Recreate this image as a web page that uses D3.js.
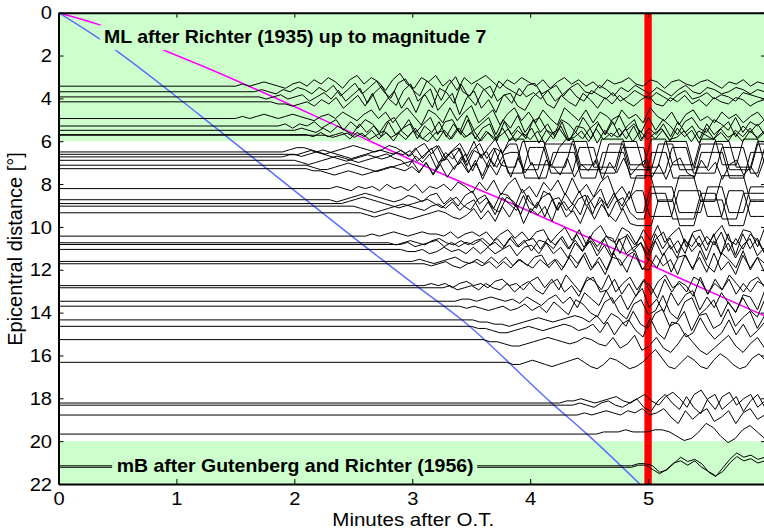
<!DOCTYPE html>
<html><head><meta charset="utf-8">
<script src="https://cdn.jsdelivr.net/npm/d3@7"></script>
<style>body{margin:0;background:#fff;overflow:hidden}svg{display:block}</style>
</head><body>
<svg id="c" width="764" height="529"></svg>
<script>
// ---------------- data ----------------
const xTicks = [0, 1, 2, 3, 4, 5];
const yTicks = [0, 2, 4, 6, 8, 10, 12, 14, 16, 18, 20, 22];
const greenBands = [[0, 6], [20, 22]];
const markerTime = 5;
const recordEnd = 6.05;
const mlLabel = "ML after Richter (1935) up to magnitude 7";
const mbLabel = "mB after Gutenberg and Richter (1956)";
// [minutes, degrees]
const magentaCurve = [[0,0],[0.35,0.57],[0.89,1.74],[1.2,2.44],[2.62,5.94],[3.18,7.34],[3.91,9.07],[5.02,11.78],[5.975,14.12],[6.05,14.3]];
const blueCurve = [[0,0],[0.36,1.27],[1.2,4.79],[1.78,7.34],[2.73,11.47],[2.97,12.48],[3.43,14.38],[4.19,18.26],[4.48,19.66],[4.93,22]];
// baseline distance of each record (degrees)
const traceDist = [3.43,3.69,3.93,4.16,4.94,5.29,5.49,5.69,5.72,
  6.50,6.61,6.73,6.89,7.12,7.28,
  8.21,8.73,8.91,9.03,9.34,
  10.43,10.74,10.82,11.05,11.61,11.72,
  12.74,12.84,13.47,13.70,14.34,14.64,15.26,
  16.32,18.22,18.32,18.78,19.67,21.15,21.22];
// minute at which each record starts to move
const traceOnset = [1.5,1.6,1.7,1.8,1.5,1.8,2.0,2.1,2.2,
  1.9,2.0,1.9,2.0,2.1,2.1,
  2.3,2.3,2.4,2.5,2.5,
  2.6,2.8,2.9,2.9,3.0,3.1,
  3.1,3.2,3.3,3.4,3.45,3.5,3.6,
  3.8,4.25,4.3,4.4,4.5,4.8,4.8];
// ground motion samples from onset to end of record (units of 0.1 deg, positive = up)
const traceSamples = [
 [0,1,0,1,2,1,0,-1,1,2,0,3,1,4,2,-1,3,5,1,4,2,-2,3,6,1,-1,4,2,5,0,3,-2,4,1,3,5,2,-1,3,1,4,2,0,3,-1,2,4,1,3,0,2,-1,3,1,2,4,1,0,3,2,-1,2,3,1,0,2,3,1,-1,2,1,3,0,2,1,2],
 [0,0,1,0,-1,1,0,2,1,-1,2,0,3,-2,1,4,-1,2,5,0,-3,4,6,1,-2,5,2,-4,3,7,0,-2,4,1,-3,5,2,0,-2,3,4,-1,1,3,-2,2,4,0,-1,3,1,-2,2,0,3,1,-1,2,0,-2,1,3,0,-1,2,1,-1,0,2,1,-1,1,0,2],
 [0,-1,0,1,-1,0,1,-2,0,2,-1,3,-2,1,4,-3,2,5,-1,-4,3,6,-2,1,-5,4,2,-3,6,0,-4,3,5,-2,1,-3,4,0,2,-1,3,-2,1,4,0,-2,3,1,-1,2,-2,0,3,1,-1,2,0,-2,1,3,-1,0,2,-1,1,0,-2,2,1,0,-1,1],
 [0,-1,-1,-2,-1,0,-2,1,-1,2,-3,0,3,-2,4,-4,1,5,-3,2,-5,3,6,-4,0,4,-6,2,5,-3,1,-5,3,4,-2,-4,2,5,-1,-3,3,0,-2,4,1,-3,2,-1,3,0,-2,1,3,-1,-2,2,0,3,-1,1,-2,2,0,-1,2,1,-2,0,1,-1],
 [0,1,0,1,2,1,0,1,2,1,0,-1,1,2,0,3,1,-1,2,4,0,3,-2,2,5,1,-3,4,2,-2,5,-1,3,6,-2,1,4,-3,2,5,-1,3,-2,4,0,-3,5,2,-1,4,-2,3,1,-3,4,0,2,-2,5,1,-1,3,-3,2,4,-1,1,-2,3,0,2,-2,1,3,-1,2],
 [0,0,1,-1,1,0,2,-1,1,3,-2,2,-1,3,1,-3,2,4,-2,3,-3,1,4,-4,2,3,-3,5,-2,1,4,-4,3,-1,5,-3,2,4,-2,-4,3,1,-3,4,-1,2,-4,3,5,-2,1,-3,4,-2,3,0,-4,2,4,-1,-3,3,1,-2,4,-3,2,0,3,-2],
 [0,1,0,-1,1,-1,2,0,-2,3,-1,2,-3,4,-2,1,3,-4,2,-1,4,-3,3,-2,5,-4,1,3,-5,4,-2,2,-4,5,-1,3,-3,4,-5,2,1,-4,3,-2,4,-3,2,5,-4,1,-2,3,-3,4,-1,2,-4,3,-2,1,4,-3,2,-1,3,-2,1],
 [0,-1,1,-1,0,1,-2,1,-1,2,-2,1,-3,2,-1,3,-2,1,-3,2,-2,3,-1,2,-3,1,-2,3,-3,2,-1,3,-4,2,-2,4,-3,1,-2,3,-4,2,-1,3,-2,4,-3,1,-2,2,-3,3,-1,2,-4,3,-2,1,-3,2,-1,3,-2,1,-2],
 [0,0,-1,0,1,-1,1,-2,0,2,-1,1,-2,2,-1,-3,1,2,-2,3,-1,1,-3,2,-2,0,3,-3,1,-2,2,-4,1,3,-2,-1,2,-3,3,-2,1,-1,3,-3,2,-2,1,3,-2,-1,2,-3,2,0,-2,3,-1,1,-3,2,-1,2,-2],
 [0,1,2,2,1,0,-1,0,1,2,3,2,1,0,1,3,2,0,-2,2,4,-1,3,-3,1,4,-2,5,-3,2,6,-1,6,6,6,-6,-6,-6,-6,2,6,6,-6,-6,-6,6,6,6,6,-6,-6,-6,6,6,6,-6,-6,-6,-6,6,6,6,-6,-6,-6,6,6,6,-6,-6],
 [0,-1,0,1,2,1,0,-1,-2,-1,0,1,2,1,0,2,-1,3,-2,2,4,-3,1,3,-4,2,5,-2,3,-5,-6,-6,6,6,6,6,-6,-6,-6,6,6,6,-6,-6,-6,-6,6,6,6,-6,-6,-6,6,6,6,6,-6,-6,-6,6,6,6,-6,-6,-6,6,6,6],
 [0,1,1,2,3,2,1,0,-1,-2,-1,0,1,0,-1,0,2,1,3,-2,1,4,-3,2,-1,4,-4,3,1,-5,4,2,6,6,-6,-6,-6,6,6,6,6,6,-6,-6,-6,-6,6,6,6,-6,-6,-6,-6,6,6,6,-6,-6,-6,6,6,6,6,-6,-6,-6,-6,6,6,6],
 [0,-1,-2,-1,0,1,2,1,0,-1,0,1,2,3,1,0,-3,2,-1,3,-4,1,4,-2,3,-5,2,4,-3,5,-6,-6,-6,6,6,6,-6,-6,-6,-6,6,6,6,-6,-6,-6,6,6,6,6,-6,-6,-6,6,6,6,-6,-6,-6,-6,6,6,6,6,-6,-6,6,6],
 [0,-1,-2,-2,-1,0,1,0,-1,-2,-3,-2,-1,0,1,2,-3,1,-4,2,3,-2,4,-3,1,-5,3,-1,5,6,6,-6,-6,-6,-6,6,6,6,6,-6,-6,-6,6,6,6,6,-6,-6,-6,6,6,6,-6,-6,-6,-6,6,6,6,6,-6,-6,-6,6,6,6,-6],
 [0,-1,-1,-2,-3,-2,-1,-2,-3,-2,-1,0,1,0,-1,1,-2,3,-3,2,-4,1,3,-2,4,-5,2,-3,4,-4,5,-2,3,-5,4,1,-3,5,-4,2,-1,4,-5,3,-2,5,-3,1,4,-4,2,-5,3,5,-2,-4,4,-1,3,-5,2,4,-3,1,-4,5,-2],
 [0,1,0,-1,1,0,1,-1,2,0,1,-1,2,-2,1,0,2,-1,3,1,-2,3,-1,4,-3,2,5,-2,1,-4,3,-1,4,-3,5,-2,2,-4,3,6,-3,1,-5,6,6,6,-6,-6,-6,6,6,6,-6,-6,-6,6,6,6,6,-6,-6,-6,6],
 [0,-1,0,1,2,3,2,1,0,-1,0,2,1,-1,2,3,-2,1,-3,2,4,-2,1,-4,3,2,-3,5,-1,-4,4,2,-5,3,-2,4,-3,1,5,-4,2,-3,4,-6,-6,6,6,6,6,-6,-6,-6,-6,6,6,6,-6,-6,-6,6,6,6,-6],
 [0,1,2,3,2,1,0,-1,-2,-1,0,1,2,0,-2,1,3,-1,-3,2,4,-2,-4,3,1,-5,4,-2,3,5,-3,1,-4,2,4,-5,3,-1,5,-3,2,6,6,-6,-6,-6,-6,6,6,6,6,-6,-6,-6,6,6,6,-6,-6,-6,6],
 [0,-1,-2,-3,-2,-1,0,1,0,-1,-2,0,1,-1,2,-2,1,3,-3,2,-4,4,1,-2,5,-3,2,-5,3,4,-2,1,-4,5,-1,3,-5,2,4,-3,-6,-6,6,6,6,-6,-6,-6,-6,6,6,6,-6,-6,-6,6,6,6,6,-6],
 [0,0,-1,-2,-1,0,-1,-2,-3,-2,-1,0,1,0,-2,-3,-1,2,-3,1,-4,3,-2,4,-5,2,-1,3,-4,5,-2,1,-5,3,-3,4,-1,-4,2,-5,-6,-6,-6,6,6,6,-6,-6,-6,6,6,6,6,-6,-6,-6,6,6,6,-6],
 [0,1,0,1,2,1,0,1,2,1,1,0,2,-1,1,2,0,2,-2,1,3,-1,2,-2,2,3,-3,1,4,-2,3,-4,2,5,-1,-3,4,2,-4,3,-2,5,-3,1,4,-5,2,3,-4,1,5,-2,-4,3,2,-5,4,-1],
 [0,-1,0,1,0,-1,1,2,0,-1,1,-1,1,2,-1,2,-2,3,-2,1,2,-3,2,-1,3,-3,4,-2,1,-4,3,2,-5,4,-1,3,-4,2,5,-3,1,-5,4,-2,3,-1,5,-4,2,-3,4,1,-5,3],
 [0,1,-1,0,1,2,-1,1,-1,1,0,2,-1,1,-2,3,-1,2,-3,2,1,-2,3,-2,2,-3,4,-1,3,-5,2,4,-3,1,-5,5,-2,3,-4,2,-1,4,-3,5,-5,5,-5,5,-2,3,-4,1],
 [0,-1,-1,0,-2,-1,1,-1,0,-2,1,-2,1,-2,0,2,-3,1,2,-2,3,-2,1,-4,3,-1,4,-3,2,-4,5,-2,1,3,-5,4,-3,2,-4,5,-1,3,-5,4,-2,3,-4,2,5,-3,1,-4],
 [0,1,0,-1,0,1,2,0,-1,1,-1,2,-1,2,-2,1,-2,2,3,-3,1,-3,3,-1,4,-3,2,-4,4,-2,3,5,-4,1,-3,4,-5,2,3,-4,5,-2,-5,4,1,-3,5,-4,2,-1,3],
 [0,-1,0,1,-1,-2,0,1,-1,1,-2,1,-2,2,0,-2,2,-1,2,-3,3,-2,4,-3,1,-5,3,2,-4,5,-2,-3,4,-1,2,-5,4,-2,3,-4,5,-3,1,-5,4,-2,3,-4,2],
 [0,1,0,1,-1,1,2,0,1,-1,2,3,0,1,-2,2,4,-1,3,-2,5,1,-3,4,2,-2,5,-3,1,4,-2,3,-4,2,5,-1,1,-3,4,2,-4,3,-2,5,1,-3,2,4,-1,3],
 [0,0,1,-1,0,1,-1,2,0,-1,2,-2,1,3,-1,-3,2,4,-2,1,-4,3,5,-2,-1,4,-3,2,-4,3,1,-5,4,-2,3,1,-4,5,-3,2,-1,4,-3,2,-2,3,1,-2],
 [0,0,1,1,0,1,2,1,0,1,-1,2,0,-2,1,3,-1,2,-3,4,1,-2,5,-1,3,-4,2,6,-3,1,-5,4,-2,3,5,-4,2,-3,4,-1,-5,3,2,-4,5,-2],
 [0,-1,0,-1,-2,-1,0,-2,-1,1,-2,0,-3,2,-1,-4,3,1,-3,-5,2,4,-3,-6,1,3,-4,-2,5,-3,-6,2,4,-4,-1,3,-5,2,-3,4,-2,-5,3,1],
 [0,0,-1,-1,-2,-2,-3,-2,-1,0,1,0,-1,0,1,2,1,-1,2,-2,3,1,-3,4,-2,-4,3,5,-3,-1,4,-5,2,3,-4,-2,5,-3,1,4,-4,2,-1],
 [0,-1,-1,-2,-3,-3,-2,-1,0,-1,-2,-1,0,1,0,-2,-1,1,-3,2,-4,1,3,-2,-5,4,-3,-6,2,1,-5,-3,4,-2,-6,-3,3,-4,1,-5,-2,2,-3],
 [0,-1,-1,-2,-3,-3,-2,-1,0,1,0,-1,-2,-1,1,0,-2,-3,1,-4,-2,2,-5,-3,1,-4,-6,-2,3,-1,-5,-7,-4,-1,2,-3,-6,-2,1,-4,-2],
 [0,-1,-1,0,1,0,-1,-2,-1,0,1,2,0,-2,-3,-1,2,1,-1,-3,-2,0,3,6,2,-2,-3,0,3,1,-2,-3,1,4,2,-1,-3,-2,2,4,1,-2],
 [0,1,1,2,1,0,1,2,3,1,0,2,4,1,-1,3,5,2,-2,4,6,1,-3,3,5,-1,2,4,-2,1,3],
 [0,0,1,0,-1,1,2,0,-1,1,3,-1,-3,2,5,1,-2,4,-1,-4,3,5,-2,1,4,-3,2,5,-1,3],
 [0,1,0,1,2,1,0,2,1,3,0,1,3,-1,-4,2,-2,1,3,-3,-1,2,-4,1,3,-2,0,2],
 [0,0,1,1,1,2,1,1,1,2,2,1,-1,-3,-2,1,5,3,-1,-4,-2,2,4,1,-2,-1],
 [0,0,1,1,0,-3,-2,1,4,2,3,1,-3,-5,-1,3,6,4,5,3,4,2],
 [0,0,1,1,-1,-3,-1,2,3,1,3,0,-2,-4,-2,2,5,3,4,2,3,1]
];

// ---------------- drawing ----------------
const FONT = '"Liberation Sans", Arial, Helvetica, sans-serif';
const svg = d3.select('#c');
const x = d3.scaleLinear().domain([0, 6]).range([58.5, 766]);
const y = d3.scaleLinear().domain([0, 22]).range([12.7, 484]);

svg.append('defs').append('clipPath').attr('id', 'plot').append('rect')
  .attr('x', x(0)).attr('y', y(0)).attr('width', x(6) - x(0)).attr('height', y(22) - y(0));

// green bands
svg.append('g').selectAll('rect').data(greenBands).join('rect')
  .attr('x', x(0)).attr('width', x(6) - x(0))
  .attr('y', d => y(d[0])).attr('height', d => y(d[1]) - y(d[0]))
  .attr('fill', '#ccffcc');

const plot = svg.append('g').attr('clip-path', 'url(#plot)');
const curveGen = d3.line().x(d => x(d[0])).y(d => y(d[1])).curve(d3.curveMonotoneX);
plot.append('path').datum(magentaCurve).attr('d', curveGen)
  .attr('fill', 'none').attr('stroke', '#ff00ff').attr('stroke-width', 1.5);
plot.append('path').datum(blueCurve).attr('d', curveGen)
  .attr('fill', 'none').attr('stroke', '#5f6dff').attr('stroke-width', 1.5);

// red marker at 5 minutes
plot.append('rect').attr('x', x(markerTime) - 3.7).attr('width', 7.4)
  .attr('y', y(0)).attr('height', y(22) - y(0)).attr('fill', '#ff0000');

// seismograms
const traceLine = d3.line().x(d => x(d[0])).y(d => y(d[1]));
const traces = traceDist.map((dist, i) => {
  const s = traceSamples[i], t0 = traceOnset[i];
  const step = (recordEnd - t0) / (s.length - 1);
  return [[0, dist]].concat(s.map((v, k) => [t0 + k * step, dist - v * 0.1]));
});
plot.append('g').selectAll('path').data(traces).join('path')
  .attr('d', traceLine).attr('fill', 'none').attr('stroke', '#000')
  .attr('stroke-width', 1).attr('stroke-linejoin', 'round');

// axes
function styleAxis(g) {
  g.select('.domain').attr('stroke', '#000').attr('stroke-width', 2);
  g.selectAll('.tick line').attr('stroke', '#000').attr('stroke-width', 1);
  g.attr('font-family', FONT).attr('font-size', 17.5);
  g.selectAll('.tick text').attr('fill', '#000');
}
const fmt = d3.format('d');
const gB = svg.append('g').attr('transform', `translate(0,${y(22)})`)
  .call(d3.axisBottom(x).tickValues(xTicks).tickFormat(fmt).tickSize(-5).tickSizeOuter(0).tickPadding(8.8));
styleAxis(gB);
gB.selectAll('.tick text').attr('transform', 'scale(1.15,1)');

const gL = svg.append('g').attr('transform', `translate(${x(0)},0)`)
  .call(d3.axisLeft(y).tickValues(yTicks).tickFormat(fmt).tickSize(-5).tickSizeOuter(0).tickPadding(6));
styleAxis(gL);
gL.selectAll('.tick text').attr('x', -5.6).attr('dy', '0.35em').attr('transform', 'scale(1.15,1)');

const gT = svg.append('g').attr('transform', `translate(0,${y(0)})`)
  .call(d3.axisTop(x).tickValues(xTicks).tickSize(-5).tickSizeOuter(0).tickFormat(''));
styleAxis(gT);
const gR = svg.append('g').attr('transform', `translate(${x(6)},0)`)
  .call(d3.axisRight(y).tickValues(yTicks).tickSize(-5).tickSizeOuter(0).tickFormat(''));
styleAxis(gR);

// axis titles
svg.append('text').attr('transform', `translate(${(x(0)+x(6))/2 + 1},526) scale(1.14,1)`)
  .attr('text-anchor', 'middle').attr('font-family', FONT).attr('font-size', 18)
  .attr('fill', '#000').text('Minutes after O.T.');
svg.append('text').attr('transform', 'translate(22,249) rotate(-90)')
  .attr('text-anchor', 'middle').attr('font-family', FONT).attr('font-size', 20)
  .attr('fill', '#000').text('Epicentral distance [°]');

// in-plot labels with band-coloured backgrounds
const labelData = [
  {text: mlLabel, tx: x(0.386), ty: y(1.415), bx: x(0.35), by: y(0.58), bw: 392, bh: 25},
  {text: mbLabel, tx: x(0.494), ty: y(21.43), bx: x(0.455), by: y(20.7), bw: 365, bh: 22}
];
const lg = svg.append('g');
lg.selectAll('rect').data(labelData).join('rect')
  .attr('x', d => d.bx).attr('y', d => d.by).attr('width', d => d.bw).attr('height', d => d.bh)
  .attr('fill', '#ccffcc');
lg.selectAll('text').data(labelData).join('text')
  .attr('transform', d => `translate(${d.tx},${d.ty}) scale(1.1,1)`)
  .attr('font-family', FONT).attr('font-size', 17.7).attr('font-weight', 'bold')
  .attr('fill', '#000').text(d => d.text);
</script>
</body></html>
